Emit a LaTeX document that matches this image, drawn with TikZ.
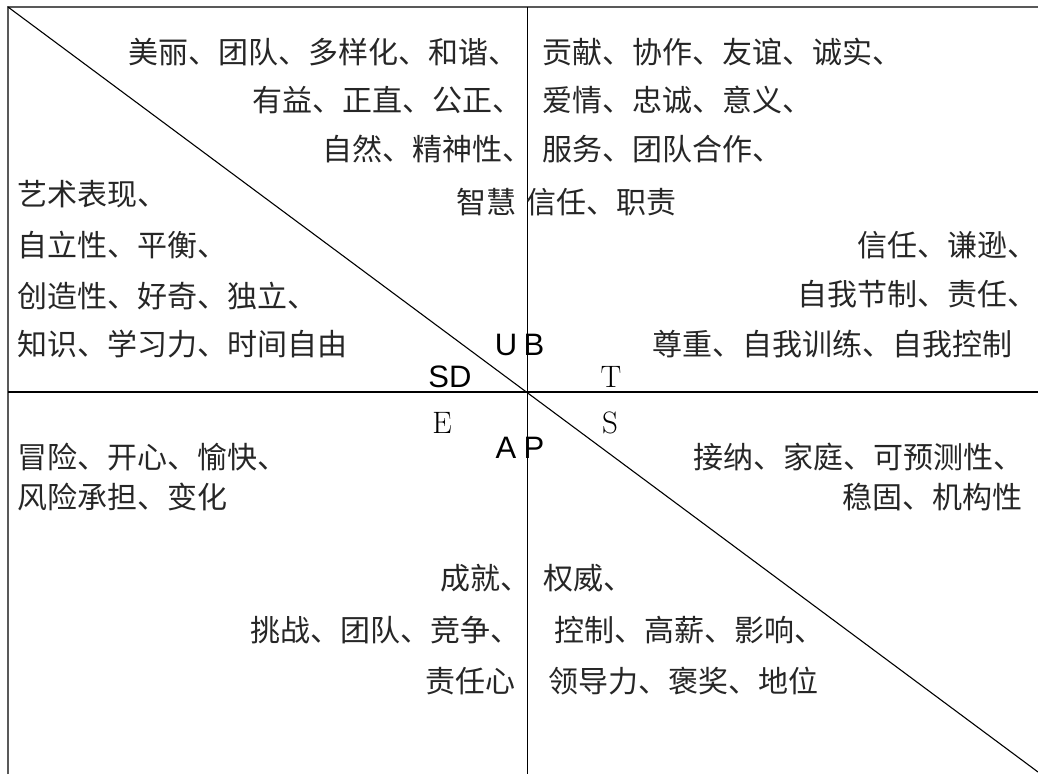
\documentclass[tikz,border=0pt]{standalone}
\usepackage{fontspec}
\newfontfamily\cjk{Noto Sans CJK SC}
\newfontfamily\lsans{Liberation Sans}
\begin{document}
\begin{tikzpicture}[x=1pt,y=-1pt,
  cj/.style={anchor=west,inner sep=0pt,font=\cjk\fontsize{30}{36}\selectfont,text=black!85},
  lsl/.style={inner sep=0pt,font=\lsans\fontsize{31}{34}\selectfont},
  lsr/.style={inner sep=0pt,font=\rmfamily\fontsize{31}{34}\selectfont},
  frame/.style={line width=1.8pt,black!65},
  axis/.style={line width=1.3pt,black}]
\useasboundingbox (0,0) rectangle (1038,774);
% coordinates
\coordinate (tl) at (8,7);
\coordinate (tr) at (1038,7);
\coordinate (bl) at (8,774);
\coordinate (vt) at (527.5,7);
\coordinate (vb) at (527.5,774);
\coordinate (hl) at (8,392);
\coordinate (hr) at (1038,392);
\coordinate (br) at (1038,772);
% lines
\draw[frame] (bl) -- (tl) -- (tr);
\draw[axis] (vt) -- (vb);
\draw[axis] (hl) -- (hr);
\draw[line width=1.1pt] (tl) -- (br);
% top-left quadrant
\node[cj] (a1) at (128,52) {美丽、团队、多样化、和谐、};
\node[cj] (a2) at (252,100) {有益、正直、公正、};
\node[cj] (a3) at (322,149) {自然、精神性、};
\node[cj] (a4) at (456,202) {智慧};
% top-right quadrant
\node[cj] (b1) at (542,52) {贡献、协作、友谊、诚实、};
\node[cj] (b2) at (542,100) {爱情、忠诚、意义、};
\node[cj] (b3) at (542,149) {服务、团队合作、};
\node[cj] (b4) at (526,202) {信任、职责};
% left
\node[cj] (c1) at (17,194) {艺术表现、};
\node[cj] (c2) at (17,245) {自立性、平衡、};
\node[cj] (c3) at (17,296) {创造性、好奇、独立、};
\node[cj] (c4) at (17,344) {知识、学习力、时间自由};
% right
\node[cj] (d1) at (857,245) {信任、谦逊、};
\node[cj] (d2) at (797,294) {自我节制、责任、};
\node[cj] (d3) at (652,344) {尊重、自我训练、自我控制};
% bottom-left
\node[cj] (e1) at (17,457) {冒险、开心、愉快、};
\node[cj] (e2) at (17,497) {风险承担、变化};
% bottom-right
\node[cj] (f1) at (693,457) {接纳、家庭、可预测性、};
\node[cj] (f2) at (842,497) {稳固、机构性};
% bottom middle left
\node[cj] (g1) at (440,578) {成就、};
\node[cj] (g2) at (250,630) {挑战、团队、竞争、};
\node[cj] (g3) at (425,681) {责任心};
% bottom middle right
\node[cj] (h1) at (543,578) {权威、};
\node[cj] (h2) at (554,630) {控制、高薪、影响、};
\node[cj] (h3) at (548,681) {领导力、褒奖、地位};
% letters
\node[lsl] (lU) at (506,345) {U};
\node[lsl] (lB) at (534,345) {B};
\node[lsl] (lSD) at (450,377) {SD};
\node[lsr] (lT) at (611,377) {T};
\node[lsr] (lE) at (442,423) {E};
\node[lsr] (lS) at (610,423) {S};
\node[lsl] (lA) at (506,448) {A};
\node[lsl] (lP) at (534,448) {P};
\end{tikzpicture}
\end{document}
